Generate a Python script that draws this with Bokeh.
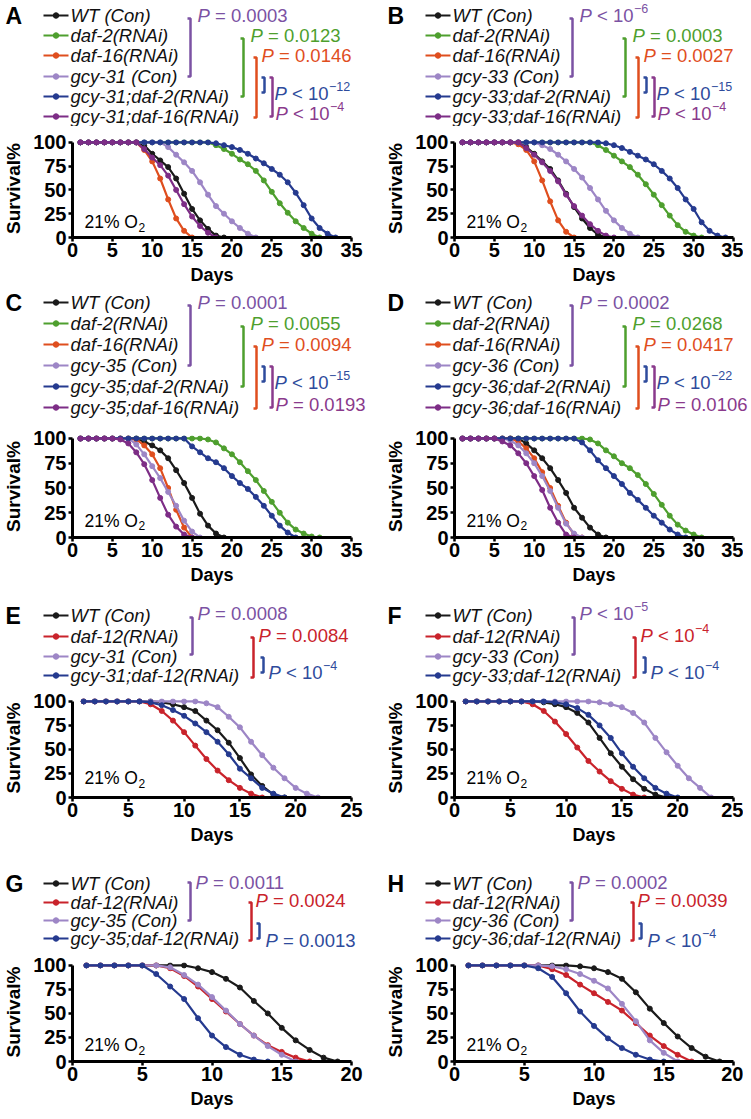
from bokeh.plotting import figure
from bokeh.layouts import column, row
from bokeh.models import Range1d, FixedTicker, Label
from bokeh.embed import file_html
from bokeh.resources import INLINE
from bokeh.core.properties import value

FONT = "Liberation Sans"

# ---------------- data (survival %, day 1 onward) ----------------
A_WT = [100,100,100,100,100,100,100,100,97,88,81,74,62,46,30,18,9,2,0]
A_DAF2 = [100,100,100,100,100,100,100,100,100,100,100,100,100,100,100,100,100,97,93,88,82,77,70,60,48,36,26,17,10,4,0]
A_DAF16 = [100,100,100,100,100,100,100,100,92,80,62,40,20,7,0]
A_GCY = [100,100,100,100,100,100,100,100,100,100,100,95,87,79,70,58,45,33,25,17,10,4,0]
A_GCY_DAF2 = [100,100,100,100,100,100,100,100,100,100,100,100,100,100,100,100,100,99,97,95,92,88,83,78,72,66,58,47,34,20,10,4,0]
A_GCY_DAF16 = [100,100,100,100,100,100,100,100,93,84,76,65,50,35,22,12,5,0]

B_WT = [100,100,100,100,100,100,100,100,95,88,80,72,60,46,32,20,10,3,0]
B_DAF2 = [100,100,100,100,100,100,100,100,100,100,100,100,100,100,100,100,100,97,92,86,80,74,66,56,45,34,23,13,6,2,0]
B_DAF16 = [100,100,100,100,100,100,100,98,92,80,60,38,18,6,0]
B_GCY = [100,100,100,100,100,100,100,100,100,100,97,93,87,80,72,63,52,40,28,18,10,4,0]
B_GCY_DAF2 = [100,100,100,100,100,100,100,100,100,100,100,100,100,100,100,100,100,100,99,97,94,90,86,82,77,70,62,52,40,30,16,7,2,0]
B_GCY_DAF16 = [100,100,100,100,100,100,100,100,94,87,79,70,59,45,33,23,14,7,2,0]

C_WT = [100,100,100,100,100,100,100,100,97,93,88,80,68,55,40,24,12,4,0]
C_DAF2 = [100,100,100,100,100,100,100,100,100,100,100,100,100,100,100,100,99,96,90,84,76,67,58,47,36,25,15,8,4,1,0]
C_DAF16 = [100,100,100,100,100,100,100,99,93,84,70,50,28,10,0]
C_GCY = [100,100,100,100,100,100,100,94,84,72,60,46,32,17,6,0]
C_GCY_DAF2 = [100,100,100,100,100,100,100,100,100,100,100,100,100,100,92,86,80,76,70,62,55,49,41,32,22,12,5,0]
C_GCY_DAF16 = [100,100,100,100,100,99,95,86,74,58,40,23,11,3,0]

D_WT = [100,100,100,100,100,100,100,100,95,88,80,70,58,45,30,20,10,3,0]
D_DAF2 = [100,100,100,100,100,100,100,100,100,100,100,100,100,100,100,100,99,95,88,82,75,70,63,54,44,33,22,13,7,3,0]
D_DAF16 = [100,100,100,100,100,100,100,97,90,80,66,50,32,15,3,0]
D_GCY = [100,100,100,100,100,100,98,93,85,75,62,47,30,14,4,0]
D_GCY_DAF2 = [100,100,100,100,100,100,100,100,100,100,100,100,100,100,100,96,88,78,70,62,54,45,38,30,22,15,8,3,0]
D_GCY_DAF16 = [100,100,100,100,100,97,93,85,75,62,48,30,15,3,0]

E_WT = [100,100,100,100,100,100,100,99,97,94,90,80,70,57,41,24,12,3,0]
E_DAF12 = [100,100,100,100,100,100,97,90,80,68,54,40,28,18,10,4,0]
E_GCY = [100,100,100,100,100,100,100,100,100,100,100,98,94,84,73,58,44,31,20,10,4,0]
E_GCY_DAF12 = [100,100,100,100,100,100,99,96,91,85,77,68,58,45,30,20,10,4,0]

F_WT = [100,100,100,100,100,100,100,99,97,94,88,78,62,46,32,19,9,3,0]
F_DAF12 = [100,100,100,100,100,100,97,90,79,66,52,38,27,17,9,3,0]
F_GCY = [100,100,100,100,100,100,100,100,100,100,100,100,99,97,94,88,78,62,47,33,20,10,0]
F_GCY_DAF12 = [100,100,100,100,100,100,100,100,99,97,93,86,75,62,46,32,20,10,4,0]

G_WT = [100,100,100,100,100,100,100,100,97,93,86,77,63,50,35,22,12,4,0]
G_DAF12 = [100,100,100,100,100,100,97,89,78,65,52,39,27,17,10,4,0]
G_GCY = [100,100,100,100,100,100,98,90,80,67,53,39,27,16,7,0]
G_GCY_DAF12 = [100,100,100,100,100,91,78,65,45,27,15,7,2,0]

H_WT = [100,100,100,100,100,100,100,100,99,97,93,86,72,55,40,26,14,5,0]
H_DAF12 = [100,100,100,100,100,100,96,90,80,71,62,53,40,27,16,7,0]
H_GCY = [100,100,100,100,100,100,99,96,91,84,76,60,42,22,9,0]
H_GCY_DAF12 = [100,100,100,100,100,97,88,71,52,37,24,14,7,2,0]

NAMES_A = ["WT (Con)", "daf-2(RNAi)", "daf-16(RNAi)", "gcy-31 (Con)", "gcy-31;daf-2(RNAi)", "gcy-31;daf-16(RNAi)"]
NAMES_B = ["WT (Con)", "daf-2(RNAi)", "daf-16(RNAi)", "gcy-33 (Con)", "gcy-33;daf-2(RNAi)", "gcy-33;daf-16(RNAi)"]
NAMES_C = ["WT (Con)", "daf-2(RNAi)", "daf-16(RNAi)", "gcy-35 (Con)", "gcy-35;daf-2(RNAi)", "gcy-35;daf-16(RNAi)"]
NAMES_D = ["WT (Con)", "daf-2(RNAi)", "daf-16(RNAi)", "gcy-36 (Con)", "gcy-36;daf-2(RNAi)", "gcy-36;daf-16(RNAi)"]
NAMES_E = ["WT (Con)", "daf-12(RNAi)", "gcy-31 (Con)", "gcy-31;daf-12(RNAi)"]
NAMES_F = ["WT (Con)", "daf-12(RNAi)", "gcy-33 (Con)", "gcy-33;daf-12(RNAi)"]
NAMES_G = ["WT (Con)", "daf-12(RNAi)", "gcy-35 (Con)", "gcy-35;daf-12(RNAi)"]
NAMES_H = ["WT (Con)", "daf-12(RNAi)", "gcy-36 (Con)", "gcy-36;daf-12(RNAi)"]

P_A = ["= 0.0003", "= 0.0123", "= 0.0146", "< 10", "< 10"]
X_A = [None, None, None, "\u221212", "\u22124"]
P_B = ["< 10", "= 0.0003", "= 0.0027", "< 10", "< 10"]
X_B = ["\u22126", None, None, "\u221215", "\u22124"]
P_C = ["= 0.0001", "= 0.0055", "= 0.0094", "< 10", "= 0.0193"]
X_C = [None, None, None, "\u221215", None]
P_D = ["= 0.0002", "= 0.0268", "= 0.0417", "< 10", "= 0.0106"]
X_D = [None, None, None, "\u221222", None]
P_E = ["= 0.0008", "= 0.0084", "< 10"]
X_E = [None, None, "\u22124"]
P_F = ["< 10", "< 10", "< 10"]
X_F = ["\u22125", "\u22124", "\u22124"]
P_G = ["= 0.0011", "= 0.0024", "= 0.0013"]
X_G = [None, None, None]
P_H = ["= 0.0002", "= 0.0039", "< 10"]
X_H = [None, None, "\u22124"]

TICKS_35 = [0, 5, 10, 15, 20, 25, 30, 35]
TICKS_25 = [0, 5, 10, 15, 20, 25]
TICKS_20 = [0, 5, 10, 15, 20]
Y_TICKS = [0, 25, 50, 75, 100]

# ---------------- styles ----------------
BLACK = "#1a1a1a"
GREEN = "#4e9f2e"
ORANGE = "#df4e1e"
LPURPLE = "#9d86c6"
BLUE = "#253a8f"
DPURPLE = "#7d2d86"
RED = "#c9232b"
P_PURPLE = "#7b52a3"
P_BLUE = "#2e4b9c"
P_DPURPLE = "#8a3a8c"
COLS6 = [BLACK, GREEN, ORANGE, LPURPLE, BLUE, DPURPLE]
COLS4 = [BLACK, RED, LPURPLE, BLUE]
PCOLS6 = [P_PURPLE, GREEN, ORANGE, P_BLUE, P_DPURPLE]
PCOLS4 = [P_PURPLE, RED, P_BLUE]

ADV = {' ': 0.278, '<': 0.584, '=': 0.584, '.': 0.278, 'P': 0.667, '%': 0.889, 'O': 0.778}
for d in "0123456789":
    ADV[d] = 0.556


def tw(s, size):
    return sum(ADV.get(ch, 0.556) for ch in s) * size


LW, RW, RWL = 382, 361, 369
FS = 18.5


def make_legend(w, h, letter, rows_y, names, colors, brackets, ptexts, pexps, pcols, ppos):
    f = figure(width=w, height=h, x_range=Range1d(0, w), y_range=Range1d(h, 0),
               output_backend="svg", toolbar_location=None, min_border=0,
               x_axis_location=None, y_axis_location=None)
    f.grid.visible = False
    f.outline_line_color = None
    f.text(x=[5], y=[rows_y[0]], text=[letter], text_font=value(FONT), text_font_style="bold",
           text_font_size="23px", text_baseline="middle", text_color="black")
    for y, name, c in zip(rows_y, names, colors):
        f.line([43, 68], [y, y], line_color=c, line_width=2.2)
        f.scatter([55.5], [y], size=5.5, color=c)
        f.text(x=[70], y=[y], text=[name], text_font=value(FONT), text_font_style="italic",
               text_font_size=f"{FS}px", text_baseline="middle", text_color="#111111")
    for (bx, y0, y1), c in zip(brackets, pcols):
        f.line([bx - 3, bx, bx, bx - 3], [y0, y0, y1, y1], line_color=c, line_width=2.5)
    for (tx, ty), t, e, c in zip(ppos, ptexts, pexps, pcols):
        f.text(x=[tx], y=[ty], text=["P"], text_font=value(FONT), text_font_style="italic",
               text_font_size=f"{FS}px", text_baseline="middle", text_color=c)
        x2 = tx + tw("P ", FS)
        f.text(x=[x2], y=[ty], text=[t], text_font=value(FONT),
               text_font_size=f"{FS}px", text_baseline="middle", text_color=c)
        if e:
            f.text(x=[x2 + tw(t, FS) + 0.5], y=[ty - 7], text=[e], text_font=value(FONT),
                   text_font_size="12.5px", text_baseline="middle", text_color=c)
    return f


def make_plot(w, left, right, top, frame_h, series, colors, xmax, xticks, o2_y):
    bottom = 54
    p = figure(width=w, height=top + frame_h + bottom, x_range=Range1d(0, xmax),
               y_range=Range1d(0, 103), output_backend="svg", toolbar_location=None,
               min_border_left=left, min_border_right=right, min_border_top=top,
               min_border_bottom=bottom)
    p.grid.visible = False
    p.outline_line_color = None
    for vals, c in zip(series, colors):
        days = list(range(1, len(vals) + 1))
        p.line(days, vals, line_color=c, line_width=2.2)
        p.scatter(days, vals, size=5, color=c)
    for ax in (p.xaxis[0], p.yaxis[0]):
        ax.axis_line_width = 3
        ax.axis_line_color = "black"
        ax.major_tick_line_width = 2.5
        ax.major_tick_line_color = "black"
        ax.major_tick_out = 4
        ax.major_tick_in = 0
        ax.minor_tick_out = 0
        ax.minor_tick_in = 0
        ax.major_label_text_font = FONT
        ax.major_label_text_font_style = "bold"
        ax.major_label_text_font_size = "20px"
        ax.major_label_text_color = "black"
        ax.axis_label_text_font = FONT
        ax.axis_label_text_font_style = "bold"
        ax.axis_label_text_color = "black"
    p.xaxis.axis_label_text_font_size = "18px"
    p.yaxis.axis_label_text_font_size = "19px"
    p.xaxis.ticker = FixedTicker(ticks=xticks)
    p.yaxis.ticker = FixedTicker(ticks=Y_TICKS)
    p.yaxis.bounds = (0, 100)
    p.xaxis.major_label_standoff = 1
    p.yaxis.major_label_standoff = 2
    p.xaxis.axis_label = "Days"
    p.yaxis.axis_label = "Survival%"
    p.xaxis.axis_label_standoff = 5
    p.yaxis.axis_label_standoff = 6
    frame_w = w - left - right
    x0 = 12 * xmax / frame_w
    p.add_layout(Label(x=x0, y=o2_y, text="21% O", text_font=FONT, text_font_size="17.5px",
                       text_baseline="middle", text_color="black"))
    p.add_layout(Label(x=x0, y=o2_y, x_offset=tw("21% O", 17.5) + 0.5, y_offset=-5, text="2",
                       text_font=FONT, text_font_size="12px", text_baseline="middle",
                       text_color="black"))
    return p


# legend geometry (px inside each legend figure; y grows downward)
ROWS1 = [15, 35, 55, 76, 96, 116]
BR1 = [(190, 18, 76), (243, 38, 96), (256, 57, 117), (264, 77, 92), (272, 77, 116)]
PP1 = [(197, 15), (250, 35), (261, 55), (274, 93), (275, 113)]

ROWS2 = [11, 32, 53, 74, 95, 116]
BR2 = [(190, 14, 74), (243, 35, 95), (256, 55, 117), (264, 75, 90), (272, 75, 116)]
PP2 = [(197, 11), (250, 32), (261, 53), (274, 91), (275, 113)]

ROWS3 = [24, 45, 65, 84]
BR3 = [(192, 26, 63), (253, 46, 86), (263, 66, 81)]
PP3 = [(197, 22), (258, 44), (268, 81)]

ROWS4 = [32, 51, 69, 87]
BR4 = [(190, 31, 69), (251, 51, 89), (259, 72, 87)]
PP4 = [(195, 31), (255, 49), (265, 89)]

LEFT, RL, RR = 70, 31, 10

lA = make_legend(LW, 126, "A", ROWS1, NAMES_A, COLS6, BR1, P_A, X_A, PCOLS6, PP1)
lB = make_legend(RWL, 126, "B", ROWS1, NAMES_B, COLS6, BR1, P_B, X_B, PCOLS6, PP1)
pA = make_plot(LW, LEFT, RL, 13, 98, [A_WT, A_DAF2, A_DAF16, A_GCY, A_GCY_DAF2, A_GCY_DAF16], COLS6, 35, TICKS_35, 16)
pB = make_plot(RW, LEFT, RR, 13, 98, [B_WT, B_DAF2, B_DAF16, B_GCY, B_GCY_DAF2, B_GCY_DAF16], COLS6, 35, TICKS_35, 16)

lC = make_legend(LW, 136, "C", ROWS2, NAMES_C, COLS6, BR2, P_C, X_C, PCOLS6, PP2)
lD = make_legend(RWL, 136, "D", ROWS2, NAMES_D, COLS6, BR2, P_D, X_D, PCOLS6, PP2)
pC = make_plot(LW, LEFT, RL, 8, 102, [C_WT, C_DAF2, C_DAF16, C_GCY, C_GCY_DAF2, C_GCY_DAF16], COLS6, 35, TICKS_35, 17)
pD = make_plot(RW, LEFT, RR, 8, 102, [D_WT, D_DAF2, D_DAF16, D_GCY, D_GCY_DAF2, D_GCY_DAF16], COLS6, 35, TICKS_35, 17)

lE = make_legend(LW, 99, "E", ROWS3, NAMES_E, COLS4, BR3, P_E, X_E, PCOLS4, PP3)
lF = make_legend(RWL, 99, "F", ROWS3, NAMES_F, COLS4, BR3, P_F, X_F, PCOLS4, PP3)
pE = make_plot(LW, LEFT, RL, 8, 99, [E_WT, E_DAF12, E_GCY, E_GCY_DAF12], COLS4, 25, TICKS_25, 20)
pF = make_plot(RW, LEFT, RR, 8, 99, [F_WT, F_DAF12, F_GCY, F_GCY_DAF12], COLS4, 25, TICKS_25, 20)

lG = make_legend(LW, 102, "G", ROWS4, NAMES_G, COLS4, BR4, P_G, X_G, PCOLS4, PP4)
lH = make_legend(RWL, 102, "H", ROWS4, NAMES_H, COLS4, BR4, P_H, X_H, PCOLS4, PP4)
pG = make_plot(LW, LEFT, RL, 9, 99, [G_WT, G_DAF12, G_GCY, G_GCY_DAF12], COLS4, 20, TICKS_20, 17)
pH = make_plot(RW, LEFT, RR, 9, 99, [H_WT, H_DAF12, H_GCY, H_GCY_DAF12], COLS4, 20, TICKS_20, 17)

layout = column(
    row(lA, lB), row(pA, pB),
    row(lC, lD), row(pC, pD),
    row(lE, lF), row(pE, pF),
    row(lG, lH), row(pG, pH),
)

open("out.html", "w").write(file_html(layout, INLINE))
